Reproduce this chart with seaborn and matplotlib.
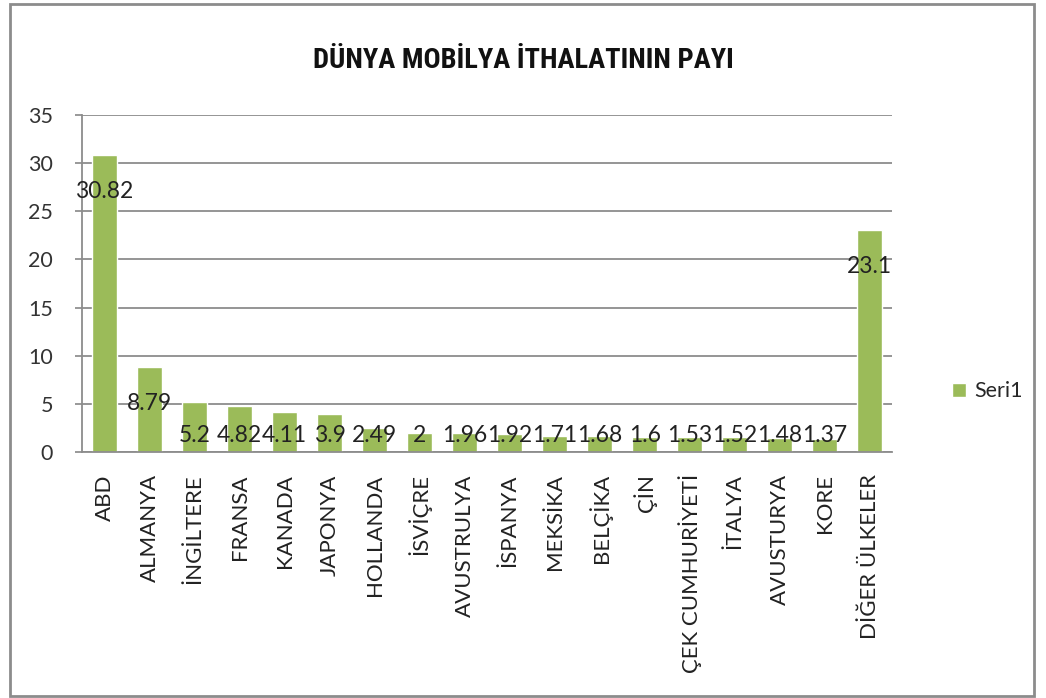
import matplotlib
matplotlib.use("Agg")
import matplotlib.pyplot as plt
import seaborn as sns
import pandas as pd
from matplotlib.patches import Rectangle
from matplotlib import font_manager

categories = ["ABD", "ALMANYA", "İNGİLTERE", "FRANSA", "KANADA", "JAPONYA", "HOLLANDA",
              "İSVİÇRE", "AVUSTRULYA", "İSPANYA", "MEKSİKA", "BELÇİKA", "ÇİN",
              "ÇEK CUMHURİYETİ", "İTALYA", "AVUSTURYA", "KORE", "DİĞER ÜLKELER"]
values = [30.82, 8.79, 5.2, 4.82, 4.11, 3.9, 2.49, 2, 1.96, 1.92, 1.71, 1.68, 1.6,
          1.53, 1.52, 1.48, 1.37, 23.1]
value_labels = ["30.82", "8.79", "5.2", "4.82", "4.11", "3.9", "2.49", "2", "1.96", "1.92",
                "1.71", "1.68", "1.6", "1.53", "1.52", "1.48", "1.37", "23.1"]
series_name = "Seri1"
title = "DÜNYA MOBİLYA İTHALATININ PAYI"

sns.set_theme(style="white")
plt.rcParams["font.family"] = ["Lato", "DejaVu Sans"]

installed = {f.name for f in font_manager.fontManager.ttflist}
title_family = [f for f in ["Liberation Sans Narrow", "Roboto Condensed", "Liberation Sans"]
                if f in installed] + ["DejaVu Sans"]

df = pd.DataFrame({"country": categories, "value": values})

fig = plt.figure(figsize=(10.46, 6.98), dpi=100)
ax = fig.add_axes([0.0784, 0.3524, 0.7746, 0.4828])

green = "#9BBB59"
sns.barplot(data=df, x="country", y="value", color=green, width=0.55,
            saturation=1, label=series_name, ax=ax)

ax.set_ylim(0, 35)
ax.set_yticks(range(0, 36, 5))
ax.set_xlim(-0.5, len(categories) - 0.5)
ax.yaxis.grid(True, color="#8c8c8c", linewidth=1.3)
ax.set_axisbelow(True)
for s in ["top", "right"]:
    ax.spines[s].set_visible(False)
for s in ["left", "bottom"]:
    ax.spines[s].set_color("#8c8c8c")
    ax.spines[s].set_linewidth(1.3)
ax.tick_params(axis="y", left=True, length=5, color="#8c8c8c", labelsize=15.5,
               labelcolor="#333333", pad=16)
ax.tick_params(axis="x", bottom=False, labelsize=16, labelcolor="#222222", pad=10)
ax.set_xticks(range(len(categories)))
ax.set_xticklabels(categories, rotation=90)
ax.set_xlabel("")
ax.set_ylabel("")

for i, (v, lab) in enumerate(zip(values, value_labels)):
    ax.text(i, max(v - 3.8, 1.7), lab, ha="center", va="center", fontsize=16.5,
            color="#222222")

leg = ax.legend(loc="center left", bbox_to_anchor=(1.05, 0.18), frameon=False,
                fontsize=15.5, handlelength=0.65, handleheight=0.65, handletextpad=0.4)

fig.text(0.5, 1 - 60 / 698, title, ha="center", va="center", fontsize=20.5,
         fontweight="bold", family=title_family, color="#111111")

fig.patches.append(Rectangle((10 / 1046, 2 / 698), 1024 / 1046, 692 / 698,
                             transform=fig.transFigure, fill=False,
                             edgecolor="#8c8c8c", linewidth=2))

fig.savefig("out.png", dpi=100)
